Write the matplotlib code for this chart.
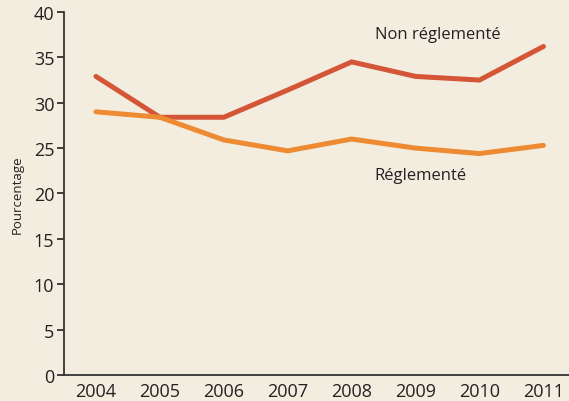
import matplotlib.pyplot as plt

annees = [2004, 2005, 2006, 2007, 2008, 2009, 2010, 2011]
non_reglemente = [32.9, 28.4, 28.4, 31.4, 34.5, 32.9, 32.5, 36.2]
reglemente = [29.0, 28.4, 25.9, 24.7, 26.0, 25.0, 24.4, 25.3]

fond = "#F3EDE0"
rouge = "#D45637"
orange = "#EE8B32"

plt.rcParams['font.family'] = ['Open Sans', 'DejaVu Sans']

fig = plt.figure(figsize=(5.69, 4.02), dpi=100, facecolor=fond)
ax = fig.add_axes([0.1125, 0.0647, 0.8875, 0.903])
ax.set_facecolor(fond)

ax.plot(annees, non_reglemente, color=rouge, lw=3.6, solid_capstyle='round', solid_joinstyle='miter')
ax.plot(annees, reglemente, color=orange, lw=3.6, solid_capstyle='round', solid_joinstyle='miter')

ax.text(2009.34, 37.6, "Non réglementé", ha='center', va='center', fontsize=12, color='#222222')
ax.text(2009.07, 22.0, "Réglementé", ha='center', va='center', fontsize=12, color='#222222')

ax.set_xlim(2003.5, 2011.4)
ax.set_ylim(0, 40)
ax.set_xticks(annees)
ax.set_yticks(range(0, 41, 5))
ax.tick_params(axis='x', length=0, labelsize=13, pad=5, colors='#222222')
ax.tick_params(axis='y', length=5, width=1.2, labelsize=13, pad=2, colors='#222222')
ax.set_ylabel("Pourcentage", fontsize=9.5, color='#222222', labelpad=7)

for s in ['top', 'right']:
    ax.spines[s].set_visible(False)
for s in ['left', 'bottom']:
    ax.spines[s].set_color('#333333')
    ax.spines[s].set_linewidth(1.3)

fig.savefig("out.png", dpi=100, facecolor=fond)
